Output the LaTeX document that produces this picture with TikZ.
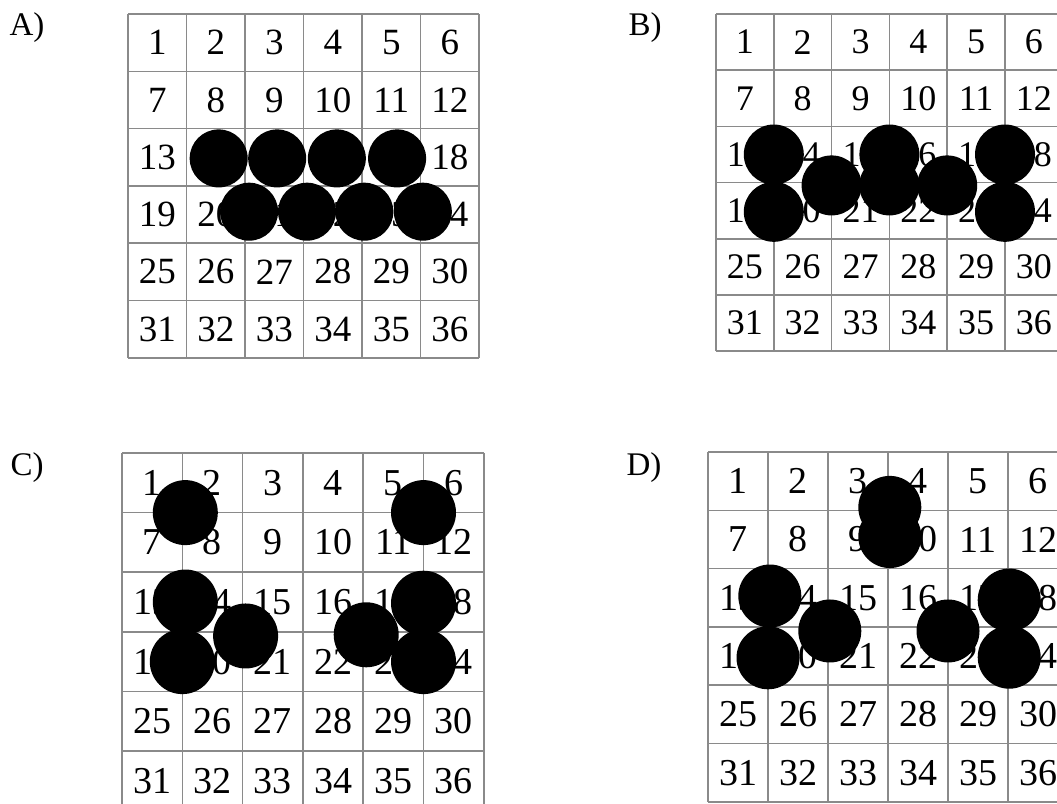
\documentclass[tikz,border=0pt]{standalone}
\usepackage{fontspec}
\setmainfont{Liberation Serif}
\usepackage{xcolor}
\usetikzlibrary{positioning}
\definecolor{gridgray}{HTML}{8a8a8a}
\tikzset{
  gridline/.style={draw=gridgray, line width=1.5pt},
  cellnum/.style={inner sep=0pt, text=black},
  dot/.style={fill=black},
  panellabel/.style={inner sep=0pt, font=\fontsize{33}{36}\selectfont},
}
% #1 panel name, #2 font size
\newcommand{\numgrid}[2]{%
  \foreach \k in {0,...,6}{
    \draw[gridline] (\k,0) -- (\k,6);
    \draw[gridline] (0,\k) -- (6,\k);
  }
  \foreach \r in {0,...,5}{
    \foreach \c in {0,...,5}{
      \pgfmathtruncatemacro{\n}{6*\r+\c+1}
      \node[cellnum, font=\fontsize{#2}{#2}\selectfont] (#1\n) at (\c+0.5,\r+0.5) {\n};
    }
  }
}

\begin{document}
\begin{tikzpicture}[x=1pt, y=-1pt]
  \clip (0,0) rectangle (1057,803);
  \fill[white] (0,0) rectangle (1057,803);

  % A
  \node[panellabel] (labA) at (27,28) {A)};
  \begin{scope}[shift={(128,14)}, x=58.5pt, y=-57.3pt]
    \numgrid{a}{37}
    \foreach \px in {1.55,2.55,3.57,4.6}
      \fill[dot] (\px,2.52) circle[radius=29pt];
    \foreach \px in {2.07,3.06,4.04,5.04}
      \fill[dot] (\px,3.45) circle[radius=29pt];
  \end{scope}

  % B
  \node[panellabel] (labB) at (645,28) {B)};
  \begin{scope}[shift={(716,14)}, x=57.8pt, y=-56.2pt]
    \numgrid{b}{36}
    \foreach \px/\py in {1/2.5,1/3.52,2/3.05,3/2.5,3/3.05,4/3.05,5/2.5,5/3.52}
      \fill[dot] (\px,\py) circle[radius=30pt];
  \end{scope}

  % C
  \node[panellabel] (labC) at (27,468) {C)};
  \begin{scope}[shift={(122,453)}, x=60.3pt, y=-59.6pt]
    \numgrid{c}{38}
    \foreach \px/\py in {1.05/1,5/1,1.05/2.5,1/3.5,2.05/3.07,4.05/3.05,5/2.52,5/3.5}
      \fill[dot] (\px,\py) circle[radius=32.5pt];
  \end{scope}

  % D
  \node[panellabel] (labD) at (644,468) {D)};
  \begin{scope}[shift={(708,452)}, x=60pt, y=-58.3pt]
    \numgrid{d}{38}
    \foreach \px/\py in {3.03/0.95,3.03/1.45,1.03/2.47,1/3.53,2.03/3.07,4/3.07,5.02/2.54,5.02/3.52}
      \fill[dot] (\px,\py) circle[radius=31.5pt];
  \end{scope}
\end{tikzpicture}
\end{document}
